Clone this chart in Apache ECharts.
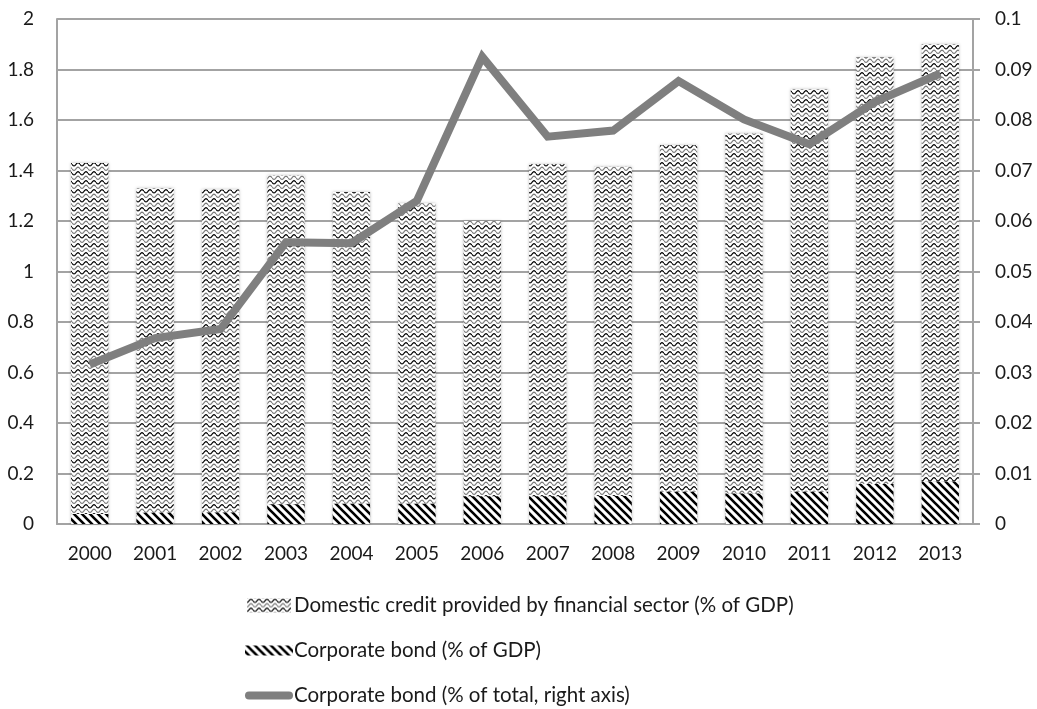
<!DOCTYPE html>
<html>
<head>
<meta charset="utf-8">
<script src="https://cdn.jsdelivr.net/npm/echarts@6/dist/echarts.min.js"></script>
<style>
  html, body { margin: 0; padding: 0; background: #fff; }
  #chart { width: 1037px; height: 709px; }
</style>
</head>
<body>
<div id="chart"></div>
<script>
// Years on the category axis
const years = ['2000', '2001', '2002', '2003', '2004', '2005', '2006',
               '2007', '2008', '2009', '2010', '2011', '2012', '2013'];

// Domestic credit provided by financial sector (% of GDP), left axis
const domesticCredit = [1.43, 1.33, 1.325, 1.38, 1.315, 1.27, 1.20,
                        1.425, 1.415, 1.50, 1.547, 1.722, 1.848, 1.90];

// Corporate bond (% of GDP), left axis
const bondGdp = [0.04, 0.045, 0.046, 0.078, 0.08, 0.08, 0.11,
                 0.11, 0.111, 0.128, 0.121, 0.128, 0.158, 0.168];

// Corporate bond (% of total), right axis
const bondShare = [0.0316, 0.0368, 0.0386, 0.0558, 0.0556, 0.064, 0.0925,
                   0.0767, 0.0779, 0.0877, 0.0801, 0.0752, 0.0836, 0.0892];

const seriesNames = [
  'Domestic credit provided by financial sector (% of GDP)',
  'Corporate bond (% of GDP)',
  'Corporate bond (% of total, right axis)'
];

// Wavy fill tile: alternating black and grey wave rows
function wavePattern() {
  const c = document.createElement('canvas');
  c.width = 8; c.height = 9;
  const g = c.getContext('2d');
  g.fillStyle = '#fff';
  g.fillRect(0, 0, 8, 9);
  g.lineWidth = 1.2;
  const row = (y0, colour) => {
    g.strokeStyle = colour;
    g.beginPath();
    for (let x = 0; x <= 8; x += 0.5) {
      const y = y0 + 1.6 * Math.sin(2 * Math.PI * x / 8);
      if (x === 0) g.moveTo(x, y); else g.lineTo(x, y);
    }
    g.stroke();
  };
  row(2.3, '#000');
  row(6.8, '#7a7a7a');
  return c;
}

// Diagonal hatch tile running top-left to bottom-right
function hatchPattern() {
  const c = document.createElement('canvas');
  c.width = 8; c.height = 8;
  const g = c.getContext('2d');
  g.fillStyle = '#fff';
  g.fillRect(0, 0, 8, 8);
  g.strokeStyle = '#000';
  g.lineWidth = 2.6;
  g.beginPath();
  for (let x = -8; x <= 8; x += 8) {
    g.moveTo(x - 1, -1);
    g.lineTo(x + 9, 9);
  }
  g.stroke();
  return c;
}

const waveFill = { image: wavePattern(), repeat: 'repeat' };
const hatchFill = { image: hatchPattern(), repeat: 'repeat' };

const FONT = 'Lato, "Open Sans", sans-serif';
const axisGrey = '#a3a3a3';
const textColour = '#1a1a1a';

const chart = echarts.init(document.getElementById('chart'), null, { renderer: 'canvas' });

chart.setOption({
  animation: false,
  backgroundColor: '#fff',
  grid: { left: 57, right: 64, top: 19, bottom: 185, containLabel: false },
  legend: {
    orient: 'vertical',
    left: 245,
    top: 595,
    padding: 0,
    height: 114,
    itemGap: 24,
    itemWidth: 48,
    itemHeight: 14,
    textStyle: { fontFamily: FONT, fontSize: 20.5, color: textColour, padding: [0, 0, 0, -4] },
    data: [
      { name: seriesNames[0], icon: 'path://M0,0 H44 V14 H0 Z' },
      { name: seriesNames[1], icon: 'path://M0,0 H44 V9 H0 Z' },
      { name: seriesNames[2], icon: 'path://M4,0 H44 A4,4 0 0 1 44,8 H4 A4,4 0 0 1 4,0 Z' }
    ]
  },
  xAxis: {
    type: 'category',
    data: years,
    boundaryGap: true,
    axisLine: { lineStyle: { color: axisGrey, width: 2 } },
    axisTick: { show: false },
    axisLabel: { color: textColour, fontFamily: FONT, fontSize: 19, margin: 20 }
  },
  yAxis: [
    {
      type: 'value',
      min: 0, max: 2, interval: 0.2,
      axisLine: { show: true, lineStyle: { color: axisGrey, width: 2 } },
      axisTick: { show: false },
      splitLine: { lineStyle: { color: axisGrey, width: 2 } },
      axisLabel: { color: textColour, fontFamily: FONT, fontSize: 19, margin: 23 }
    },
    {
      type: 'value',
      min: 0, max: 0.1, interval: 0.01,
      position: 'right',
      axisLine: { show: true, lineStyle: { color: axisGrey, width: 2 } },
      axisTick: { show: true, inside: false, length: 7, lineStyle: { color: axisGrey, width: 2 } },
      splitLine: { show: false },
      axisLabel: { color: textColour, fontFamily: FONT, fontSize: 19, margin: 22 }
    }
  ],
  series: [
    {
      name: seriesNames[0],
      type: 'bar',
      yAxisIndex: 0,
      data: domesticCredit,
      barWidth: '57%',
      barGap: '-100%',
      itemStyle: { color: waveFill, shadowBlur: 3, shadowColor: 'rgba(0,0,0,0.25)' },
      z: 2
    },
    {
      name: seriesNames[1],
      type: 'bar',
      yAxisIndex: 0,
      data: bondGdp,
      barWidth: '57%',
      barGap: '-100%',
      itemStyle: { color: hatchFill },
      z: 3
    },
    {
      name: seriesNames[2],
      type: 'line',
      yAxisIndex: 1,
      data: bondShare,
      symbol: 'none',
      lineStyle: { color: '#7f7f7f', width: 8, join: 'miter' },
      itemStyle: { color: '#7f7f7f' },
      z: 4
    }
  ]
});
</script>
</body>
</html>
